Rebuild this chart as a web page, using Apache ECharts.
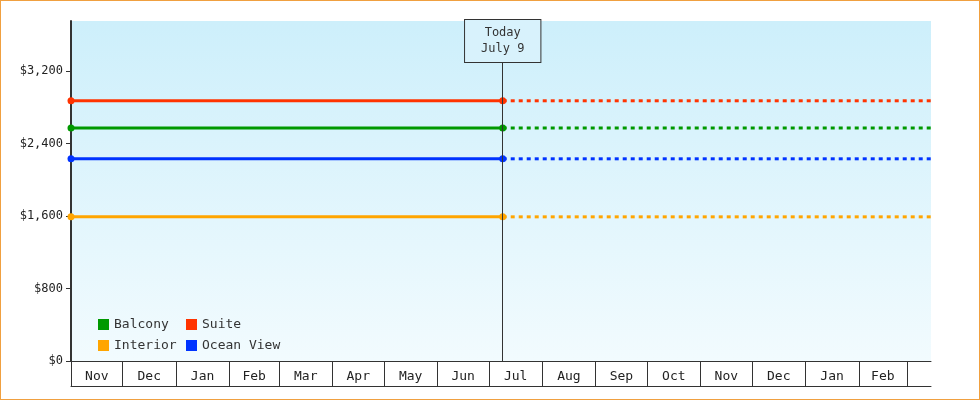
<!DOCTYPE html>
<html><head><meta charset="utf-8">
<script src="https://cdn.jsdelivr.net/npm/echarts@6/dist/echarts.min.js"></script>
<style>html,body{margin:0;padding:0;}#c{width:978px;height:398px;border:1px solid #f0a040;}</style>
</head><body><div id="c"></div>
<script>
// Days since Nov 1 (start of timeline)
const monthNames = ['Nov','Dec','Jan','Feb','Mar','Apr','May','Jun','Jul','Aug','Sep','Oct','Nov','Dec','Jan','Feb'];
const monthDays = [30,31,31,29,31,30,31,30,31,31,30,31,30,31,31,28];
const todayDay = 251;
const endDay = 500;
const seriesNames = ['Suite','Balcony','Ocean View','Interior'];
const seriesColors = ['#ff3300','#009900','#0033ff','#ffa500'];
const prices = [2870, 2570, 2230, 1590];
const yTicks = [0,800,1600,2400,3200];

const starts=[0]; monthDays.forEach(d=>starts.push(starts[starts.length-1]+d));
const mids = monthDays.map((d,i)=>starts[i]+d/2);
const labelMap={}; mids.forEach((m,i)=>labelMap[m]=monthNames[i]);
const font='DejaVu Sans Mono';
const series=[];
seriesNames.forEach((n,i)=>{
  series.push({name:n,type:'line',data:[[0,prices[i]],[todayDay,prices[i]]],symbol:'circle',symbolSize:7,
    itemStyle:{color:seriesColors[i]},lineStyle:{width:3,color:seriesColors[i]},z:3,
    markLine: i===0?{silent:true,symbol:'none',lineStyle:{color:'#333',width:1,type:'solid'},
      label:{show:true,position:'end',formatter:'Today\nJuly 9',fontFamily:font,fontSize:12,color:'#333',
        backgroundColor:'#d8f2fc',borderColor:'#333',borderWidth:1,padding:[5,16,5,16],lineHeight:16,distance:-41},
      data:[{xAxis:todayDay}]}:undefined});
  series.push({name:n,type:'line',data:[[todayDay,prices[i]],[endDay,prices[i]]],symbol:'none',
    lineStyle:{width:3,color:seriesColors[i],type:[4,4]},itemStyle:{color:seriesColors[i]}});
});
const chart=echarts.init(document.getElementById('c'));
chart.setOption({
  animation:false,
  textStyle:{fontFamily:font},
  grid:{left:70,right:48,top:20,bottom:38,show:true,borderWidth:0,
    backgroundColor:new echarts.graphic.LinearGradient(0,0,0,1,[{offset:0,color:'#cdeffb'},{offset:1,color:'#f2fbfe'}])},
  legend:[
    {data:['Balcony','Interior'],orient:'vertical',left:92,top:312,itemWidth:11,itemHeight:11,itemGap:8,icon:'rect',textStyle:{fontFamily:font,fontSize:13,color:'#333'},itemStyle:{borderWidth:0},lineStyle:{width:0}},
    {data:['Suite','Ocean View'],orient:'vertical',left:180,top:312,itemWidth:11,itemHeight:11,itemGap:8,icon:'rect',textStyle:{fontFamily:font,fontSize:13,color:'#333'},itemStyle:{borderWidth:0},lineStyle:{width:0}}
  ],
  xAxis:[{type:'value',min:0,max:endDay,
    axisLine:{lineStyle:{color:'#333',width:1}},
    axisTick:{customValues:starts,length:25,inside:false,lineStyle:{color:'#333'}},
    axisLabel:{customValues:mids,formatter:v=>labelMap[v]||'',fontFamily:font,fontSize:13,color:'#222',margin:9},
    splitLine:{show:false}},
   {type:'value',min:0,max:endDay,position:'bottom',offset:25,axisLine:{show:true,lineStyle:{color:'#333'}},axisTick:{show:false},axisLabel:{show:false},splitLine:{show:false}}],
  yAxis:{type:'value',min:0,max:3750,
    axisLine:{show:true,lineStyle:{color:'#333',width:2}},
    axisTick:{show:true,customValues:yTicks,length:5,lineStyle:{color:'#333'}},
    axisLabel:{customValues:yTicks,formatter:v=>'$'+v.toLocaleString('en-US'),fontFamily:font,fontSize:12,color:'#222'},
    splitLine:{show:false}},
  series
});
</script></body></html>
